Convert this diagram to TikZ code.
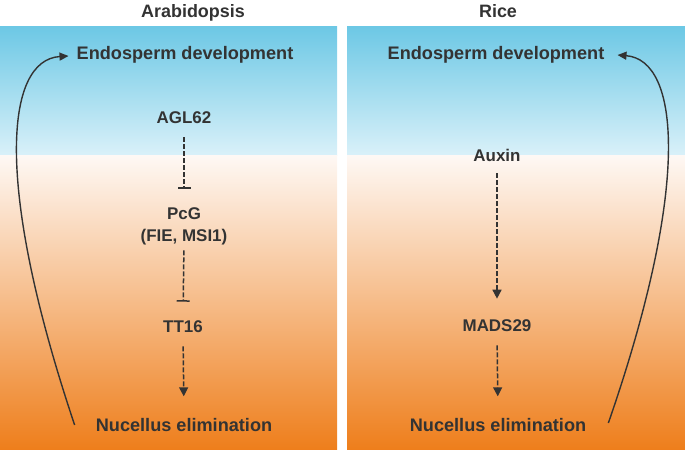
\documentclass[tikz,border=0pt]{standalone}
\usepackage{fontspec}
\setmainfont{Liberation Sans}
\usetikzlibrary{arrows.meta}

\definecolor{ink}{HTML}{333333}
\definecolor{skyTop}{HTML}{6DC8E5}
\definecolor{skyLow}{HTML}{DAF1F9}
\definecolor{seedTop}{HTML}{FEF8F4}
\definecolor{seedLow}{HTML}{EE7E1B}

\begin{document}
\begin{tikzpicture}[
    x=1bp, y=-1bp,
    % Panel heading style
    heading/.style={
        font=\fontsize{18}{21}\selectfont\bfseries,
        text=ink,
        inner sep=0pt,
        text height=12.9bp,
        text depth=0pt
    },
    % Process label style
    process/.style={
        font=\fontsize{18.2}{21}\selectfont\bfseries,
        text=ink,
        inner sep=0pt,
        text height=13bp,
        text depth=0pt
    },
    % Gene label style
    gene/.style={
        font=\fontsize{17}{20}\selectfont\bfseries,
        text=ink,
        inner sep=0pt,
        text height=12.2bp,
        text depth=0pt
    },
    % Promoting link style
    promote/.style={
        -{Triangle[length=9bp,width=9bp]},
        draw=ink,
        line width=1.5bp,
        dash pattern=on 5bp off 2bp
    },
    % Repressing link style
    repress/.style={
        -{Bar[width=13bp]},
        draw=ink,
        line width=1.5bp,
        dash pattern=on 5bp off 2bp
    },
    % Feedback arc style
    feedback/.style={
        -{Triangle[length=9bp,width=8bp]},
        draw=ink,
        line width=1.4bp
    }
]
\useasboundingbox (0,0) rectangle (685,450);

% === Panel backgrounds ===
\shade[top color=skyTop, bottom color=skyLow] (0,27) rectangle (337,156);
\shade[top color=seedTop, bottom color=seedLow] (0,156) rectangle (337,450);
\shade[top color=skyTop, bottom color=skyLow] (347,27) rectangle (685,156);
\shade[top color=seedTop, bottom color=seedLow] (347,156) rectangle (685,450);

% === Headings ===
\node[heading] (arabTitle) at (193, 11) {Arabidopsis};
\node[heading] (riceTitle) at (498, 11) {Rice};

% === Arabidopsis ===
\node[process] (endoL) at (185, 53) {Endosperm development};
\node[gene] (agl62) at (184, 117) {AGL62};
\node[gene] (pcg) at (184, 213) {PcG};
\node[gene] (fie) at (184, 235) {(FIE, MSI1)};
\node[gene] (tt16) at (183, 326) {TT16};
\node[process] (nucL) at (184, 425) {Nucellus elimination};

\draw[repress, shorten <=14bp, shorten >=18bp] (agl62.south) -- (pcg.north);
\draw[repress, shorten <=9bp, shorten >=18bp] (fie.south) -- (tt16.north);
\draw[promote, shorten <=14bp, shorten >=22bp] (tt16.south) -- (nucL.north);

\draw[feedback] ([xshift=-21bp]nucL.west)
    .. controls (-6,185) and (5,60) .. ([xshift=-8bp,yshift=-3bp]endoL.west);

% === Rice ===
\node[process] (endoR) at (496, 53) {Endosperm development};
\node[gene] (auxin) at (497, 155) {Auxin};
\node[gene] (mads29) at (497, 325) {MADS29};
\node[process] (nucR) at (498, 425) {Nucellus elimination};

\draw[promote, shorten <=12bp, shorten >=20bp] (auxin.south) -- (mads29.north);
\draw[promote, shorten <=14bp, shorten >=22bp] (mads29.south) -- (nucR.north);

\draw[feedback] ([xshift=22bp,yshift=2bp]nucR.east)
    .. controls (691,185) and (680,60) .. ([xshift=13bp,yshift=-2bp]endoR.east);

\end{tikzpicture}
\end{document}
